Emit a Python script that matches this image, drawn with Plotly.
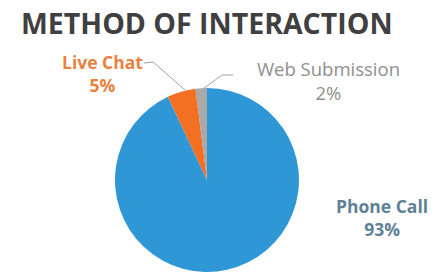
import plotly.graph_objects as go

labels = ["Phone Call", "Live Chat", "Web Submission"]
values = [93, 5, 2]
colors = ["#2F97D6", "#F36F21", "#A9A9A9"]
label_colors = ["#5E8196", "#E8823E", "#8F8F8F"]
label_bold = [True, True, False]

W, H = 443, 272
OFF = 0  # body margin removed via post_script


def px(x):
    return (x - OFF) / W


def py(y):
    return 1 - (y - OFF) / H


fig = go.Figure(go.Pie(
    labels=labels, values=values, sort=False, direction="clockwise", rotation=0,
    marker=dict(colors=colors, line=dict(width=0)),
    textinfo="none", hoverinfo="label+percent", showlegend=False,
    domain=dict(x=[px(115), px(299)], y=[py(272), py(88)]),
))

ann_pos = {"Phone Call": (382, 217), "Live Chat": (102, 74), "Web Submission": (328, 80)}
ann_size = {"Phone Call": 17.5, "Live Chat": 17.5, "Web Submission": 18.5}
for lab, val, col, b in zip(labels, values, label_colors, label_bold):
    x, y = ann_pos[lab]
    txt = f"<b>{lab}<br>{val}%</b>" if b else f"{lab}<br>{val}%"
    fig.add_annotation(x=px(x), y=py(y), xref="paper", yref="paper",
                       xanchor="center", yanchor="middle",
                       text=txt, showarrow=False,
                       font=dict(family="Open Sans", size=ann_size[lab], color=col),
                       align="center")

# leader lines
fig.add_shape(type="path", xref="paper", yref="paper",
              path=f"M {px(144)} {py(63)} L {px(153)} {py(62)} L {px(185)} {py(90)}",
              line=dict(color="#A0A0A0", width=1))
fig.add_shape(type="path", xref="paper", yref="paper",
              path=f"M {px(233)} {py(75)} L {px(222)} {py(75)} L {px(203)} {py(89)}",
              line=dict(color="#A0A0A0", width=1))

fig.add_annotation(x=px(19), y=py(23), xref="paper", yref="paper", xanchor="left", yanchor="middle",
                   text="<b>METHOD OF INTERACTION</b>", showarrow=False,
                   font=dict(family="Open Sans", size=28.5, color="#404040"))

fig.update_layout(width=W, height=H, margin=dict(l=0, r=0, t=0, b=0),
                  paper_bgcolor="white", plot_bgcolor="white")

fig.write_html("out.html", config={"displayModeBar": False},
               post_script="document.body.style.margin='0';")
